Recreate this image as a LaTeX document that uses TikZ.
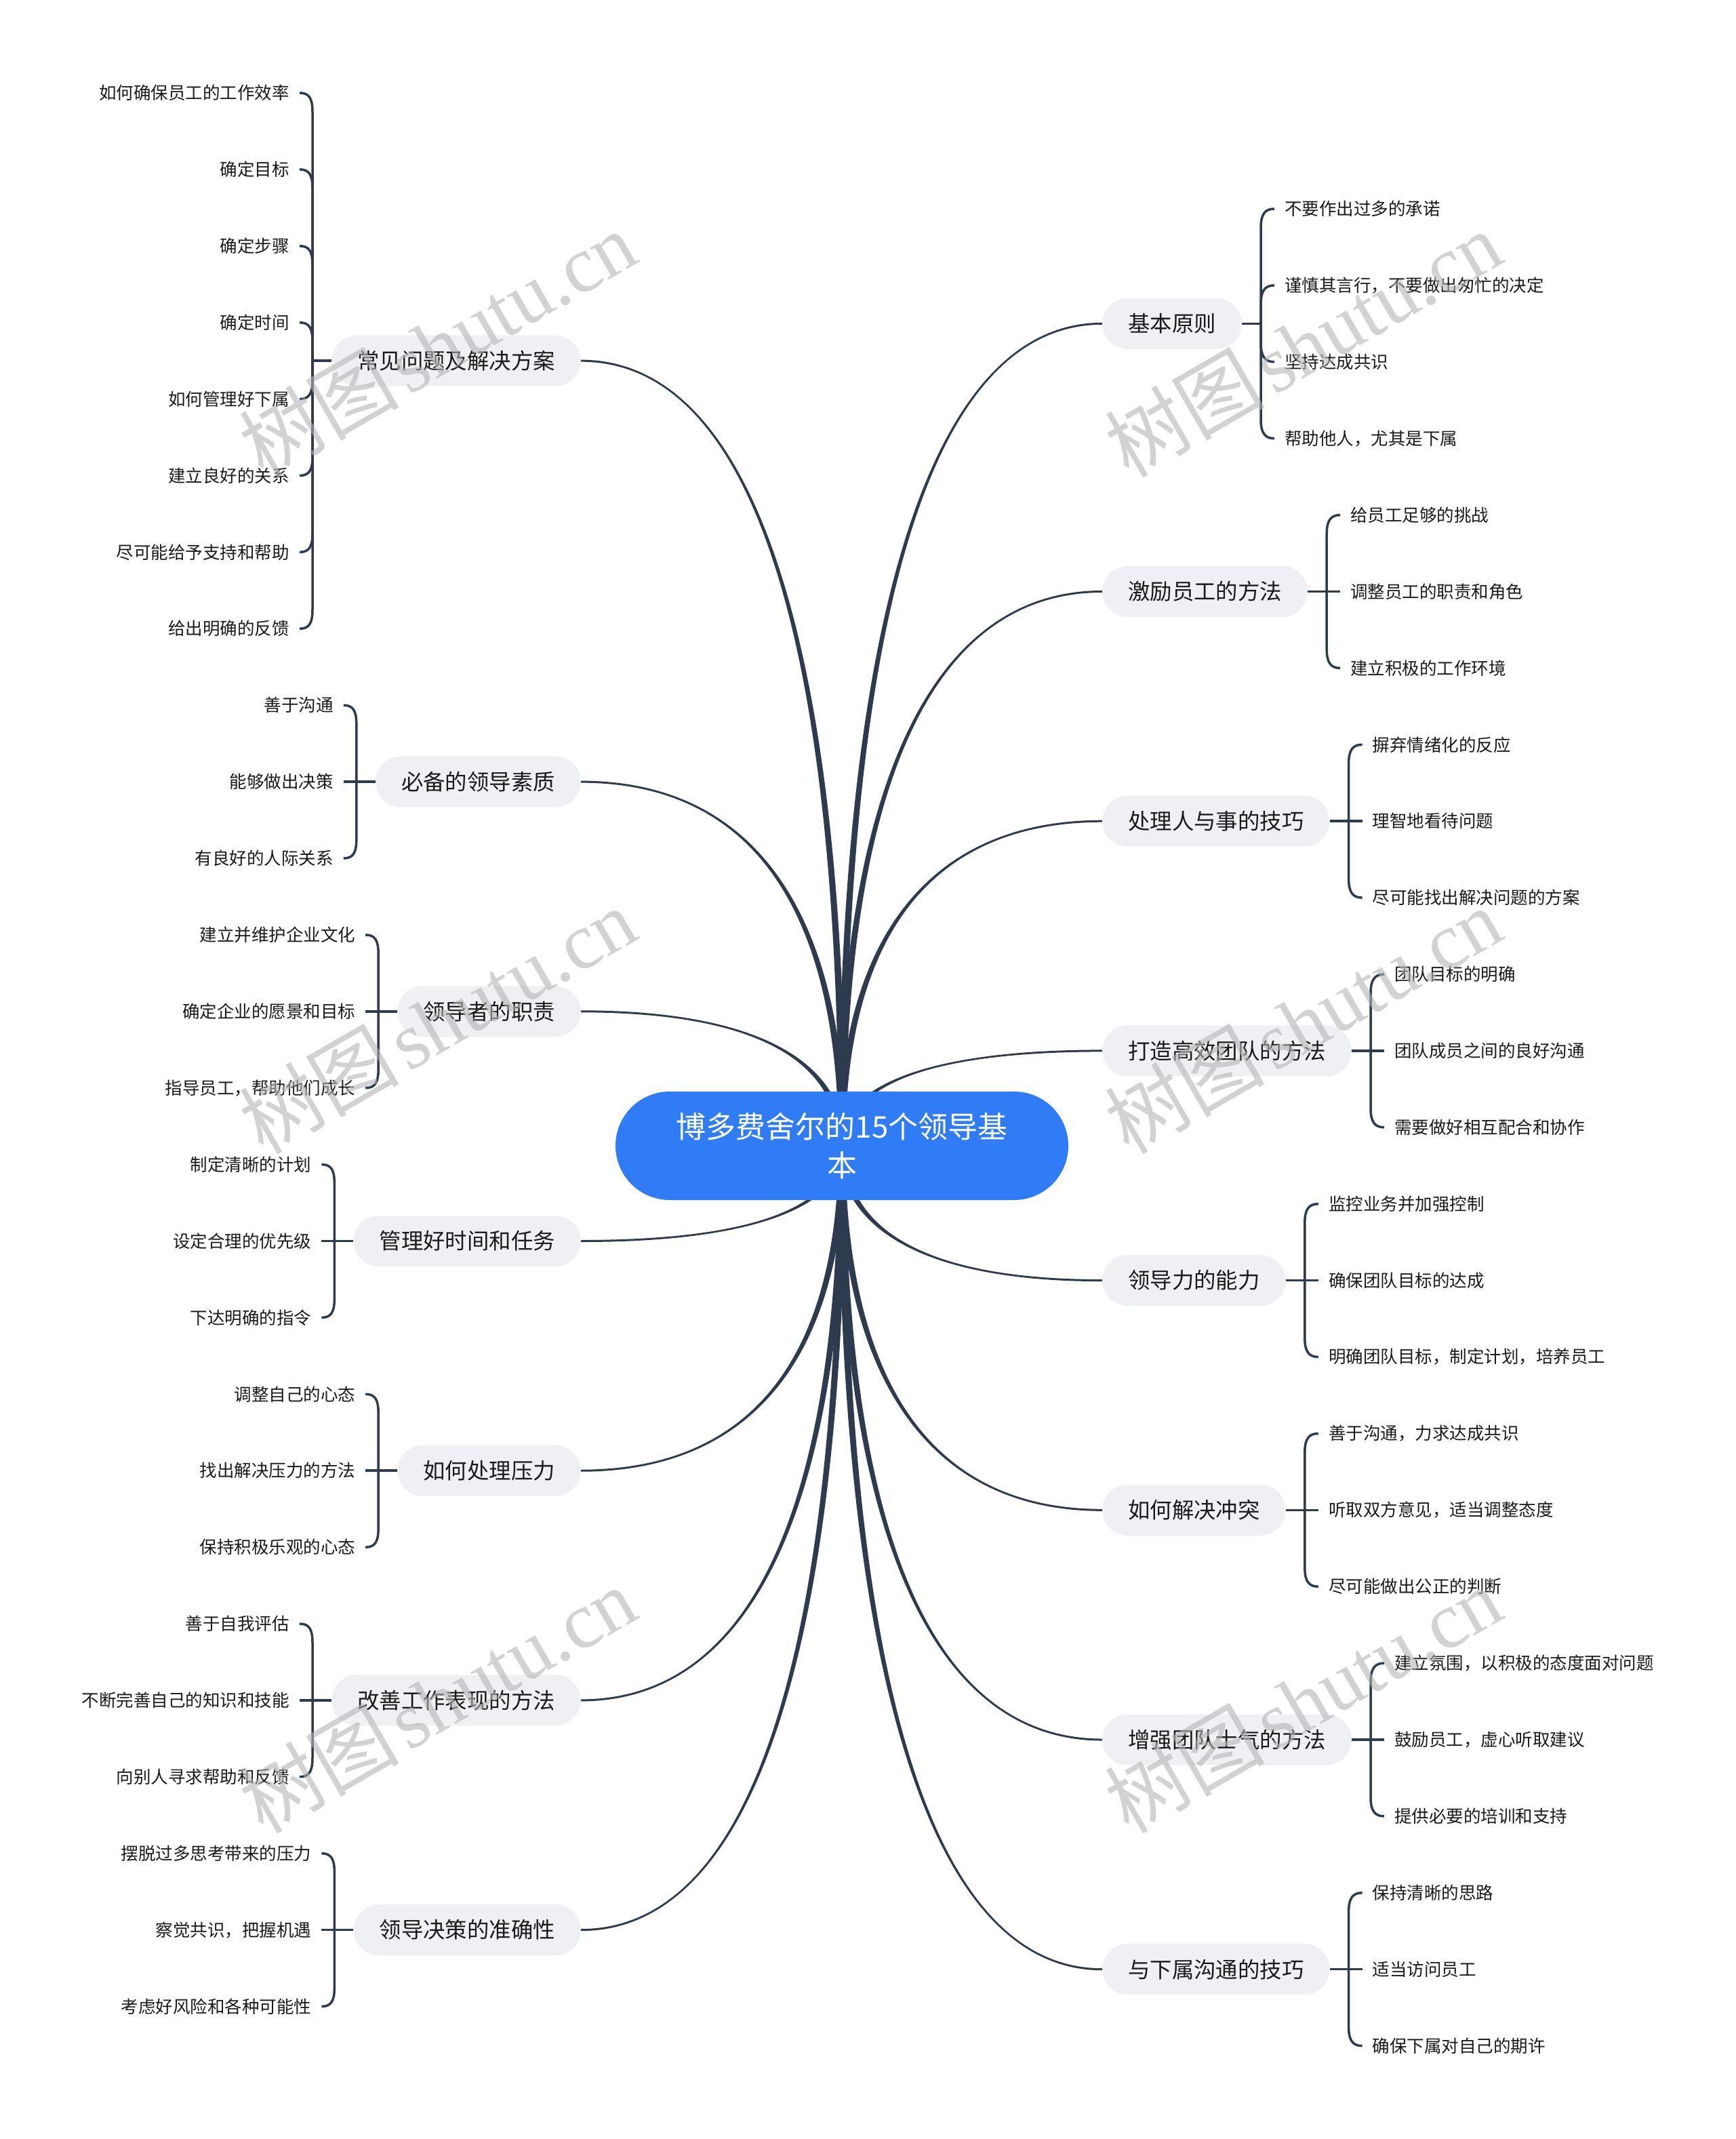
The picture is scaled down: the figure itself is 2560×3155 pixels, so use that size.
\documentclass[tikz,border=0pt]{standalone}
\usepackage{fontspec}
\setmainfont{Noto Sans CJK SC}
\newfontfamily\cjkfont{Noto Sans CJK SC}
\newfontfamily\wmserif{Liberation Serif}
\usetikzlibrary{calc}
\pgfdeclarelayer{bg}
\pgfdeclarelayer{fg}
\pgfsetlayers{bg,main,fg}
\definecolor{lkc}{HTML}{2E3B4E}
\definecolor{brfill}{HTML}{EEF0F3}
\definecolor{rootfill}{HTML}{2F7CF6}
\definecolor{txt}{HTML}{1A1A1A}
\definecolor{wmc}{HTML}{B4B4B4}
\tikzset{
 root/.style={fill=rootfill, text=white, rounded corners=80pt, minimum width=668pt, minimum height=160pt, align=center, font=\fontsize{44pt}{57pt}\selectfont, inner sep=0pt},
 branch/.style={fill=brfill, text=txt, rounded corners=37.5pt, minimum height=75pt, inner xsep=38pt, inner ysep=0pt, font=\fontsize{32.4pt}{38pt}\selectfont},
 leaf/.style={text=txt, inner xsep=15pt, inner ysep=2pt, font=\fontsize{25.5pt}{30pt}\selectfont},
 bl/.style={draw=lkc, line width=3.5pt},
 linkfill/.style={fill=lkc},
 wm/.style={text=wmc, opacity=0.6, rotate=30, inner sep=0pt, font=\fontsize{118pt}{130pt}\selectfont}
}
\newcommand\mlink[4]{%
 \fill[linkfill] ($(#1)+(#3pt,0pt)$) .. controls ($(#1)!0.6!(#1|-#2)+(#3pt,0pt)$) and ($(#1|-#2)!0.3!(#2)+(0pt,#4pt)$) .. ($(#2)+(0pt,#4pt)$) -- ($(#2)-(0pt,#4pt)$) .. controls ($(#1|-#2)!0.3!(#2)-(0pt,#4pt)$) and ($(#1)!0.6!(#1|-#2)-(#3pt,0pt)$) .. ($(#1)-(#3pt,0pt)$) -- cycle;}
\newcommand\leftleaves[3]{%
 \coordinate (#1j) at ($(#1.west)+(-28pt,0pt)$);
 \draw[bl] (#1.west) -- (#1j);
 \foreach \t [count=\i from 0] in {#3} {%
   \pgfmathsetmacro\off{((#2-1)/2-\i)*112.9}%
   \node[leaf, anchor=east] (#1-\i) at ([xshift=-19pt,yshift=\off pt]#1j) {\t};%
   \ifdim\off pt=0pt
     \draw[bl] (#1-\i.east) -- (#1j);
   \else
     \pgfmathsetmacro\sg{sign(\off)}%
     \draw[bl] (#1-\i.east) .. controls +(14pt,0pt) and +(0pt,{20pt*(\sg)}) .. ([yshift={\off pt-28pt*(\sg)}]#1j) -- (#1j);
   \fi
 }}
\newcommand\rightleaves[3]{%
 \coordinate (#1j) at ($(#1.east)+(28pt,0pt)$);
 \draw[bl] (#1.east) -- (#1j);
 \foreach \t [count=\i from 0] in {#3} {%
   \pgfmathsetmacro\off{((#2-1)/2-\i)*112.9}%
   \node[leaf, anchor=west] (#1-\i) at ([xshift=20pt,yshift=\off pt]#1j) {\t};%
   \ifdim\off pt=0pt
     \draw[bl] (#1-\i.west) -- (#1j);
   \else
     \pgfmathsetmacro\sg{sign(\off)}%
     \draw[bl] (#1-\i.west) .. controls +(-14pt,0pt) and +(0pt,{20pt*(\sg)}) .. ([yshift={\off pt-28pt*(\sg)}]#1j) -- (#1j);
   \fi
 }}
\begin{document}
\begin{tikzpicture}[x=1pt,y=-1pt]
\useasboundingbox (0,0) rectangle (2560,3155);
\begin{pgfonlayer}{bg}
\fill[white] (0,0) rectangle (2560,3155);
\end{pgfonlayer}

% root
\node[root] (c) at (1242,1690) {博多费舍尔的15个领导基\\本};

% left branches
\node[branch, anchor=east] (L1) at (857,532.15) {常见问题及解决方案};
\node[branch, anchor=east] (L2) at (857,1153.1) {必备的领导素质};
\node[branch, anchor=east] (L3) at (857,1491.8) {领导者的职责};
\node[branch, anchor=east] (L4) at (857,1830.5) {管理好时间和任务};
\node[branch, anchor=east] (L5) at (857,2169.2) {如何处理压力};
\node[branch, anchor=east] (L6) at (857,2507.9) {改善工作表现的方法};
\node[branch, anchor=east] (L7) at (857,2846.6) {领导决策的准确性};

% right branches
\node[branch, anchor=west] (R1) at (1626,477.35) {基本原则};
\node[branch, anchor=west] (R2) at (1626,872.5) {激励员工的方法};
\node[branch, anchor=west] (R3) at (1626,1211.2) {处理人与事的技巧};
\node[branch, anchor=west] (R4) at (1626,1549.9) {打造高效团队的方法};
\node[branch, anchor=west] (R5) at (1626,1888.6) {领导力的能力};
\node[branch, anchor=west] (R6) at (1626,2227.3) {如何解决冲突};
\node[branch, anchor=west] (R7) at (1626,2566) {增强团队士气的方法};
\node[branch, anchor=west] (R8) at (1626,2904.7) {与下属沟通的技巧};

% main links
\begin{pgfonlayer}{bg}
\mlink{c.center}{L1.east}{5}{1.5}
\mlink{c.center}{L2.east}{5}{1.5}
\mlink{c.center}{L3.east}{5}{1.5}
\mlink{c.center}{L4.east}{5}{-1.5}
\mlink{c.center}{L5.east}{5}{-1.5}
\mlink{c.center}{L6.east}{5}{-1.5}
\mlink{c.center}{L7.east}{5}{-1.5}
\mlink{c.center}{R1.west}{-5}{1.5}
\mlink{c.center}{R2.west}{-5}{1.5}
\mlink{c.center}{R3.west}{-5}{1.5}
\mlink{c.center}{R4.west}{-5}{1.5}
\mlink{c.center}{R5.west}{-5}{-1.5}
\mlink{c.center}{R6.west}{-5}{-1.5}
\mlink{c.center}{R7.west}{-5}{-1.5}
\mlink{c.center}{R8.west}{-5}{-1.5}
\end{pgfonlayer}

% leaves
\leftleaves{L1}{8}{如何确保员工的工作效率,确定目标,确定步骤,确定时间,如何管理好下属,建立良好的关系,尽可能给予支持和帮助,给出明确的反馈}
\leftleaves{L2}{3}{善于沟通,能够做出决策,有良好的人际关系}
\leftleaves{L3}{3}{建立并维护企业文化,确定企业的愿景和目标,指导员工，帮助他们成长}
\leftleaves{L4}{3}{制定清晰的计划,设定合理的优先级,下达明确的指令}
\leftleaves{L5}{3}{调整自己的心态,找出解决压力的方法,保持积极乐观的心态}
\leftleaves{L6}{3}{善于自我评估,不断完善自己的知识和技能,向别人寻求帮助和反馈}
\leftleaves{L7}{3}{摆脱过多思考带来的压力,察觉共识，把握机遇,考虑好风险和各种可能性}

\rightleaves{R1}{4}{不要作出过多的承诺,谨慎其言行，不要做出匆忙的决定,坚持达成共识,帮助他人，尤其是下属}
\rightleaves{R2}{3}{给员工足够的挑战,调整员工的职责和角色,建立积极的工作环境}
\rightleaves{R3}{3}{摒弃情绪化的反应,理智地看待问题,尽可能找出解决问题的方案}
\rightleaves{R4}{3}{团队目标的明确,团队成员之间的良好沟通,需要做好相互配合和协作}
\rightleaves{R5}{3}{监控业务并加强控制,确保团队目标的达成,明确团队目标，制定计划，培养员工}
\rightleaves{R6}{3}{善于沟通，力求达成共识,听取双方意见，适当调整态度,尽可能做出公正的判断}
\rightleaves{R7}{3}{建立氛围，以积极的态度面对问题,鼓励员工，虚心听取建议,提供必要的培训和支持}
\rightleaves{R8}{3}{保持清晰的思路,适当访问员工,确保下属对自己的期许}

% watermarks
\begin{pgfonlayer}{fg}
\node[wm] (w1) at (645,507) {{\cjkfont 树图}\hspace{0.1em}{\wmserif shutu.cn}};
\node[wm] (w2) at (645,1505) {{\cjkfont 树图}\hspace{0.1em}{\wmserif shutu.cn}};
\node[wm] (w3) at (645,2507) {{\cjkfont 树图}\hspace{0.1em}{\wmserif shutu.cn}};
\node[wm] (w4) at (1922,507) {{\cjkfont 树图}\hspace{0.1em}{\wmserif shutu.cn}};
\node[wm] (w5) at (1922,1505) {{\cjkfont 树图}\hspace{0.1em}{\wmserif shutu.cn}};
\node[wm] (w6) at (1922,2507) {{\cjkfont 树图}\hspace{0.1em}{\wmserif shutu.cn}};
\end{pgfonlayer}
\end{tikzpicture}
\end{document}
